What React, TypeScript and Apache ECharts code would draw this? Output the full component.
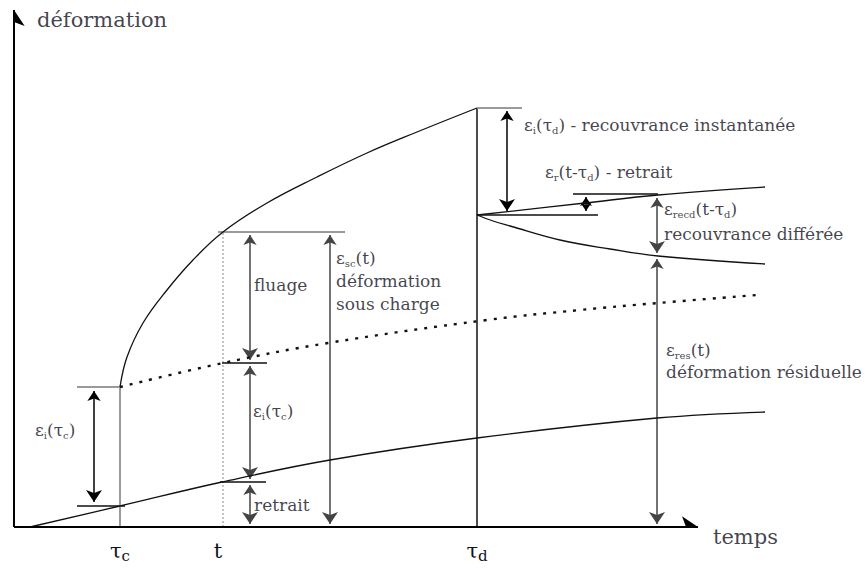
import React, { useEffect, useRef } from 'react';
import * as echarts from 'echarts';

// ---- Curves: [time, deformation] ----
const creepUnderLoad = [[106, 140], [113, 170], [129, 204], [153, 237], [179, 267], [209, 295], [253, 324], [303, 350], [353, 374], [403, 395], [463, 419]];
const instantPlusShrinkage = [[106, 140], [209, 164], [314, 184], [473, 207], [566, 217], [644, 224], [743, 232]];
const shrinkage = [[16, 0], [106, 21], [208, 45], [316, 67], [463, 89], [643, 109], [751, 115]];
const shrinkageAfterUnload = [[463, 312], [571, 324], [644, 332], [751, 340]];
const recoveryAfterUnload = [[463, 312], [479, 306], [496, 301], [546, 287], [596, 278], [644, 271], [751, 263]];

// ---- Axes ----
const timeAxisEnd = 684;
const deformationAxisEnd = 517;
const tickValues = [106, 204, 463];
const tickLabels = ['{t|τ}{ts|c}', '{t|t}', '{t|τ}{ts|d}'];

// ---- Reference segments ----
const blackSegments = [
  [[463, 0], [463, 419]],
  [[63, 21], [111, 21]],
  [[208, 164], [253, 164]],
  [[206, 45], [252, 45]],
  [[463, 312], [584, 312]],
  [[559, 333], [644, 333]],
];
const graySegments = [
  [[106, 0], [106, 140]],
  [[63, 140], [106, 140]],
  [[204, 295], [331, 295]],
  [[463, 419], [508, 419]],
];
const dottedSegments = [[[209, 0], [209, 295]]];
const blackArrows = [
  [[80, 136], [80, 25]],
  [[493, 416], [493, 316]],
];
const smallArrows = [[[572, 330], [572, 316]]];
const grayArrows = [
  [[236, 292], [236, 167]],
  [[236, 161], [236, 48]],
  [[236, 42], [236, 3]],
  [[316, 292], [316, 3]],
  [[643, 329], [643, 274]],
  [[643, 268], [643, 3]],
];

// ---- Annotations ----
const annotations: { at: number[]; text: string }[] = [
  { at: [23, 507], text: '{b|déformation}' },
  { at: [699, -10], text: '{b|temps}' },
  { at: [21, 97], text: '{e|ε}{s|i}{e|(τ}{s|c}{e|)}' },
  { at: [240, 242], text: '{e|fluage}' },
  { at: [322, 269], text: '{e|ε}{s|sc}{e|(t)}' },
  { at: [322, 246], text: '{e|déformation}' },
  { at: [322, 223], text: '{e|sous charge}' },
  { at: [239, 116], text: '{e|ε}{s|i}{e|(τ}{s|c}{e|)}' },
  { at: [240, 22], text: '{e|retrait}' },
  { at: [510, 402], text: '{e|ε}{s|i}{e|(τ}{s|d}{e|) - recouvrance instantanée}' },
  { at: [531, 355], text: '{e|ε}{s|r}{e|(t-τ}{s|d}{e|) - retrait}' },
  { at: [650, 318], text: '{e|ε}{s|recd}{e|(t-τ}{s|d}{e|)}' },
  { at: [650, 293], text: '{e|recouvrance différée}' },
  { at: [652, 177], text: '{e|ε}{s|res}{e|(t)}' },
  { at: [652, 155], text: '{e|déformation résiduelle}' },
];

export default function App() {
  const ref = useRef<HTMLDivElement>(null);
  useEffect(() => {
    document.body.style.margin = '0';
    const chart = echarts.init(ref.current!, null, { renderer: 'svg' });
    const font = 'DejaVu Serif';
    const ink = '#111122';
    const rich: any = {
      b: { fontSize: 21, fontFamily: font, color: ink, lineHeight: 26 },
      e: { fontSize: 17, fontFamily: font, color: ink, lineHeight: 20 },
      s: { fontSize: 10, fontFamily: font, color: ink, lineHeight: 10, verticalAlign: 'bottom' },
      t: { fontSize: 21, fontFamily: font, color: ink, lineHeight: 24 },
      ts: { fontSize: 15, fontFamily: font, color: ink, lineHeight: 14, verticalAlign: 'bottom' },
    };
    const lines = (data: number[][][], color: string, width: number, symbol: any, symbolSize: any, type: any = 'solid', z = 3) => ({
      type: 'lines',
      coordinateSystem: 'cartesian2d',
      silent: true,
      z,
      data: data.map((c) => ({ coords: c })),
      symbol,
      symbolSize,
      lineStyle: { color, width, opacity: 1, type, curveness: 0 },
    });
    const curve = (data: number[][], type: any = 'solid', width = 1.3) => ({
      type: 'line',
      data,
      showSymbol: false,
      smooth: 0.4,
      silent: true,
      z: 4,
      lineStyle: { color: '#111', width, type },
    });
    chart.setOption({
      animation: false,
      backgroundColor: '#ffffff',
      textStyle: { fontFamily: font },
      grid: { left: 14, right: 0, top: 0, bottom: 42 },
      xAxis: {
        type: 'value',
        min: 0,
        max: 851,
        axisLine: { show: false },
        splitLine: { show: false },
        axisTick: { show: false },
        axisLabel: {
          customValues: tickValues,
          margin: 12,
          fontFamily: font,
          rich,
          formatter: (v: number) => tickLabels[tickValues.indexOf(v)] ?? '',
        },
      },
      yAxis: {
        type: 'value',
        min: 0,
        max: 527,
        axisLine: { show: false },
        splitLine: { show: false },
        axisTick: { show: false },
        axisLabel: { show: false },
      },
      series: [
        curve(creepUnderLoad),
        curve(instantPlusShrinkage, [3, 7], 2.4),
        curve(shrinkage),
        curve(shrinkageAfterUnload),
        curve(recoveryAfterUnload),
        lines([[[0, 0], [timeAxisEnd, 0]], [[0, 0], [0, deformationAxisEnd]]], '#000', 2, ['none', 'arrow'], [12, 16], 'solid', 5),
        lines(blackSegments, '#111', 1.5, ['none', 'none'], 0),
        lines(graySegments, '#9a9a9a', 2, ['none', 'none'], 0),
        lines(dottedSegments, '#c4c4c4', 2, ['none', 'none'], 0, 'dotted', 2),
        lines(blackArrows, '#000', 1.5, ['arrow', 'arrow'], [10, 12]),
        lines(smallArrows, '#000', 1.5, ['arrow', 'arrow'], [9, 8]),
        lines(grayArrows, '#444', 1.5, ['arrow', 'arrow'], [10, 12]),
        {
          type: 'scatter',
          symbolSize: 0,
          silent: true,
          clip: false,
          z: 6,
          data: annotations.map((a) => ({
            value: a.at,
            label: { show: true, position: 'right', distance: 0, formatter: a.text, rich, fontFamily: font },
          })),
        },
      ],
    });
    return () => chart.dispose();
  }, []);
  return <div ref={ref} style={{ width: 865, height: 569 }} />;
}
